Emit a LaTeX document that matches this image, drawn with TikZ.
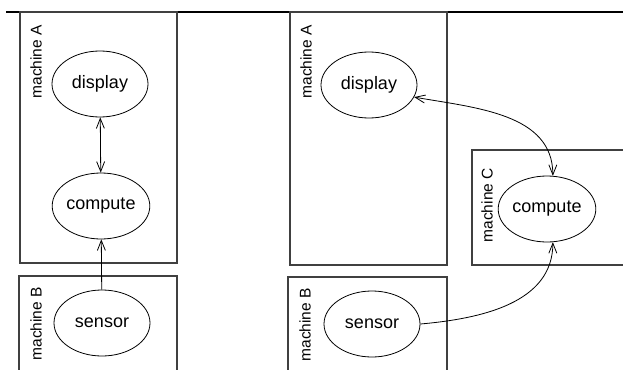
\documentclass[tikz,border=0pt]{standalone}
\usepackage{fontspec}
\setmainfont{Liberation Sans}
\usetikzlibrary{shapes.geometric,arrows.meta}

\begin{document}
\begin{tikzpicture}[x=1pt,y=-1pt,
    proc/.style={draw, ellipse, line width=0.8pt, minimum width=96pt, minimum height=66pt, inner sep=0pt, font=\fontsize{18}{20}\selectfont},
    machine/.style={draw=black!75, line width=1.2pt},
    mlabel/.style={rotate=90, anchor=east, inner sep=0pt, font=\fontsize{15.5}{17}\selectfont},
    link/.style={line width=0.8pt, >={Straight Barb[length=10pt,width=8pt]}}]
      \useasboundingbox (0,0) rectangle (623,369);
      \clip (0,0) rectangle (623,369);
      \draw[line width=2pt] (6,12) -- (623,12);
      % left: two machines
      \draw[machine] (20,12) rectangle (177,263);
      \draw[machine] (19,276) rectangle (177,380);
      \node[mlabel] (labA) at (36,25) {machine A};
      \node[mlabel] (labB) at (36,287) {machine B};
      \node[proc] (display) at (100,84) {display};
      \node[proc] (compute) at (101,206) {compute};
      \node[proc] (sensor) at (102,323) {sensor};
      \draw[link, <->] (display) -- (compute);
      \draw[link, ->] (sensor) -- (compute);
      % right: three machines
      \draw[machine] (290,12) rectangle (447,265);
      \draw[machine] (288,277) rectangle (447,380);
      \draw[machine] (623,150) -- (472,150) -- (472,265) -- (623,265);
      \node[mlabel] (labA2) at (306,25) {machine A};
      \node[mlabel] (labB2) at (305,288) {machine B};
      \node[mlabel] (labC) at (487,168) {machine C};
      \node[proc] (display2) at (369,85) {display};
      \node[proc] (compute2) at (547,209) {compute};
      \node[proc] (sensor2) at (372,324) {sensor};
      \draw[link, <->] (display2.-15) to[out=-10, in=90] (compute2.80);
      \draw[link, ->] (sensor2.east) to[out=5, in=-90] (compute2.-80);
    \end{tikzpicture}
\end{document}
